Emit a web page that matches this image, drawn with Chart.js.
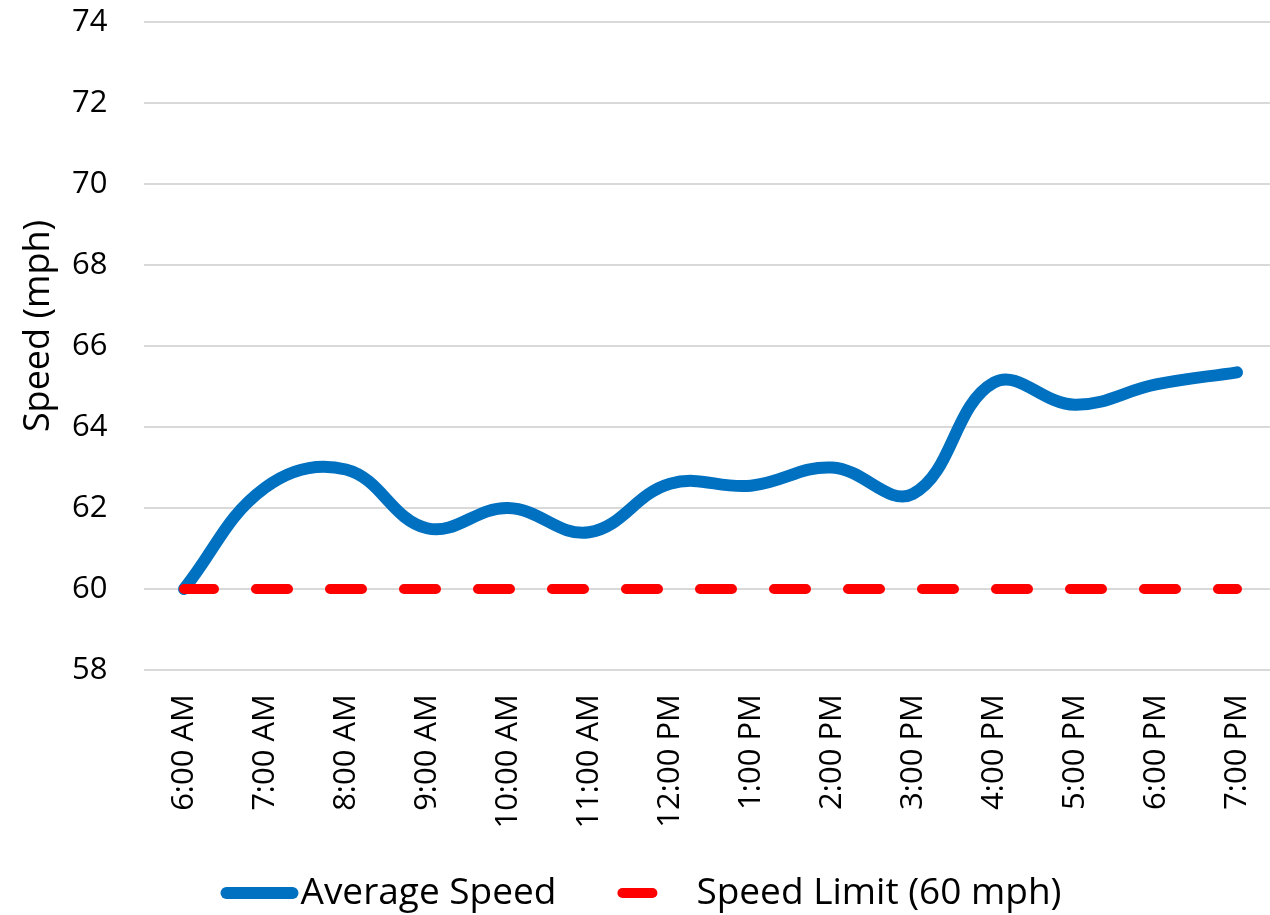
<!DOCTYPE html>
<html>
<head>
<meta charset="utf-8">
<title>Average Speed by Hour</title>
<script src="https://cdn.jsdelivr.net/npm/chart.js@4.4.1/dist/chart.umd.min.js"></script>
<style>
  html, body { margin: 0; padding: 0; background: #ffffff; overflow: hidden; }
  #wrap { position: relative; width: 1285px; height: 915px; }
</style>
</head>
<body>
<div id="wrap"><canvas id="chart"></canvas></div>
<script>
// Hourly categories along the x axis
const hours = ['6:00 AM', '7:00 AM', '8:00 AM', '9:00 AM', '10:00 AM', '11:00 AM',
               '12:00 PM', '1:00 PM', '2:00 PM', '3:00 PM', '4:00 PM', '5:00 PM',
               '6:00 PM', '7:00 PM'];

// Measured average speed (mph) for each hour
const averageSpeed = [60.0, 62.5, 62.95, 61.5, 62.0, 61.4, 62.6, 62.55, 63.0, 62.35,
                      65.1, 64.55, 65.05, 65.35];

// Posted speed limit, constant over the day
const speedLimit = [60, 60, 60, 60, 60, 60, 60, 60, 60, 60, 60, 60, 60, 60];

// Y axis range and step
const yMin = 58;
const yMax = 74;
const yStep = 2;

const seriesNames = ['Average Speed', 'Speed Limit (60 mph)'];
const axisTitle = 'Speed (mph)';

// Legend drawn under the plot: a line sample followed by its label
const bottomLegend = {
  id: 'bottomLegend',
  afterDraw(chart) {
    const ctx = chart.ctx;
    const ds = chart.data.datasets;
    const y = 893;
    ctx.save();
    ctx.font = '37px "Open Sans"';
    ctx.textBaseline = 'middle';
    ctx.fillStyle = '#000000';
    const t1 = ctx.measureText(seriesNames[0]).width;
    const t2 = ctx.measureText(seriesNames[1]).width;
    const total = 6 + 66 + 8 + t1 + 61 + 40 + 39 + t2;
    let x = 641 - total / 2;

    // Average speed sample
    ctx.strokeStyle = ds[1].borderColor;
    ctx.lineWidth = ds[1].borderWidth;
    ctx.lineCap = 'round';
    ctx.beginPath();
    ctx.moveTo(x + 6, y);
    ctx.lineTo(x + 72, y);
    ctx.stroke();
    x += 80;
    ctx.fillText(seriesNames[0], x, y);
    x += t1 + 61;

    // Speed limit sample: a single dash
    ctx.strokeStyle = ds[0].borderColor;
    ctx.lineWidth = ds[0].borderWidth;
    ctx.beginPath();
    ctx.moveTo(x + 5, y);
    ctx.lineTo(x + 35, y);
    ctx.stroke();
    x += 40 + 39;
    ctx.fillText(seriesNames[1], x, y);
    ctx.restore();
  }
};

const ctx = document.getElementById('chart').getContext('2d');
new Chart(ctx, {
  type: 'line',
  data: {
    labels: hours,
    datasets: [
      {
        label: seriesNames[1],
        data: speedLimit,
        borderColor: '#ff0000',
        borderWidth: 10,
        borderDash: [32, 42],
        borderDashOffset: 2,
        borderCapStyle: 'round',
        pointRadius: 0,
        pointHoverRadius: 0,
        tension: 0,
        fill: false,
        order: 0
      },
      {
        label: seriesNames[0],
        data: averageSpeed,
        borderColor: '#0070c0',
        borderWidth: 12,
        borderCapStyle: 'round',
        borderJoinStyle: 'round',
        pointRadius: 0,
        pointHoverRadius: 0,
        tension: 0.4,
        fill: false,
        order: 1
      }
    ]
  },
  options: {
    responsive: true,
    maintainAspectRatio: false,
    animation: false,
    events: [],
    layout: { padding: { top: 22, right: 7.5, bottom: 70, left: 0 } },
    plugins: {
      legend: { display: false },
      tooltip: { enabled: false },
      title: { display: false }
    },
    scales: {
      x: {
        offset: true,
        grid: { display: false, drawTicks: false },
        border: { display: false },
        ticks: {
          color: '#000000',
          font: { family: '"Open Sans"', size: 31 },
          minRotation: 90,
          maxRotation: 90,
          autoSkip: false,
          padding: 24
        },
        afterFit(scale) {
          scale.height = 175;
          scale.paddingLeft = 0;
          scale.paddingRight = 0;
          scale.paddingTop = 0;
          scale.paddingBottom = 0;
        }
      },
      y: {
        min: yMin,
        max: yMax,
        grid: { color: '#d9d9d9', lineWidth: 2, drawTicks: false },
        border: { display: false },
        ticks: {
          stepSize: yStep,
          color: '#000000',
          font: { family: '"Open Sans"', size: 31 },
          padding: 36
        },
        title: {
          display: true,
          text: axisTitle,
          color: '#000000',
          font: { family: '"Open Sans"', size: 36 },
          padding: { top: 17, bottom: 0 }
        },
        afterFit(scale) {
          scale.width = 143.5;
          scale.paddingTop = 0;
          scale.paddingBottom = 0;
          // sit the axis title a little above the middle of the axis
          if (!scale._titleShifted) {
            const drawTitle = scale.drawTitle.bind(scale);
            scale.drawTitle = function () {
              const c = scale.ctx;
              c.save();
              c.translate(0, -20);
              drawTitle();
              c.restore();
            };
            scale._titleShifted = true;
          }
        }
      }
    }
  },
  plugins: [bottomLegend]
});
</script>
</body>
</html>
